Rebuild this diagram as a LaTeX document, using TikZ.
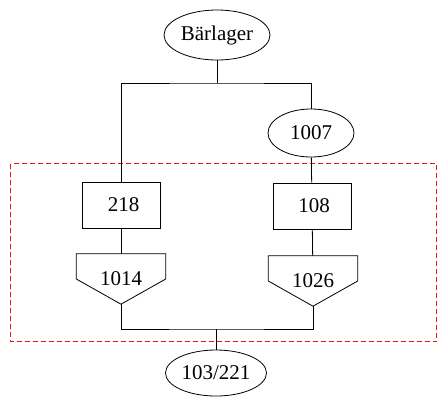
\documentclass[tikz,border=0pt]{standalone}
\usepackage{fontspec}
\setmainfont{Liberation Serif}
\usetikzlibrary{shapes.geometric}
\definecolor{zonered}{RGB}{235,20,20}

\begin{document}
\begin{tikzpicture}[
    x=1pt,y=-1pt,
    every node/.style={font=\fontsize{21}{24}\selectfont,inner sep=0pt},
    store/.style={ellipse,draw,line width=0.8pt},
    machine/.style={rectangle,draw,line width=0.8pt,minimum width=78pt,minimum height=46pt},
    funnel/.style={rectangle,minimum width=89pt,minimum height=50pt},
    link/.style={line width=0.8pt},
    zone/.style={draw=zonered,line width=1pt,dash pattern=on 5pt off 3pt}
  ]
    \useasboundingbox (0,0) rectangle (438,399);

    % red zone
    \draw[zone] (10.5,163.5) rectangle (436.5,341.5);

    \node[store,minimum width=106pt,minimum height=50pt] (barlager) at (217,35) {Bärlager};
    \node[store,minimum width=86pt,minimum height=48pt] (s1007) at (311,133) {1007};
    \node[machine] (m218) at (121,205) {\hspace{5pt}218};
    \node[machine] (m108) at (312,206) {\hspace{4pt}108};
    \node[funnel] (f1014) at (121,279) {1014};
    \node[funnel] (f1026) at (313,281) {1026};
    \node[store,minimum width=101pt,minimum height=46pt] (s103) at (216,373) {103/221};

    \coordinate (split) at (217,83);
    \coordinate (join) at (216,329);

    % funnel outlines
    \foreach \f in {f1014,f1026}
      \draw[link] (\f.north west) -- (\f.north east) -- (\f.east) -- (\f.south) -- (\f.west) -- cycle;

    \draw[link] (barlager) -- (split);
    \draw[link] (m218) |- (split) -| (s1007);
    \draw[link] (s1007) -- (m108);
    \draw[link] (m218) -- (f1014);
    \draw[link] (m108) -- (f1026);
    \draw[link] (f1014.south) |- (join) -| (f1026.south);
    \draw[link] (join) -- (s103);
  \end{tikzpicture}
\end{document}
